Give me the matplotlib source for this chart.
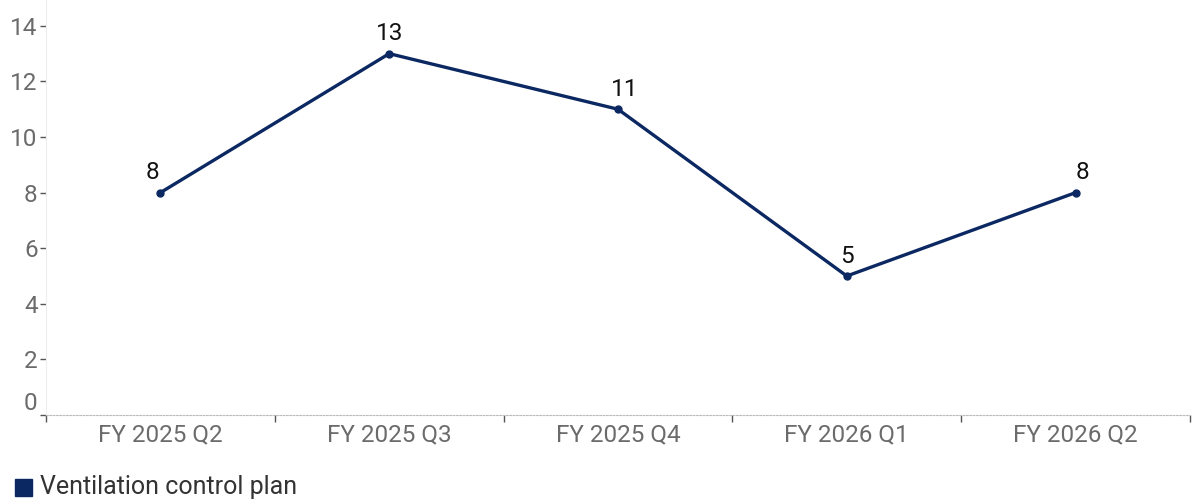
import matplotlib.pyplot as plt
from matplotlib.patches import Rectangle

quarters = ["FY 2025 Q2", "FY 2025 Q3", "FY 2025 Q4", "FY 2026 Q1", "FY 2026 Q2"]
plans = [8, 13, 11, 5, 8]
yticks = [0, 2, 4, 6, 8, 10, 12, 14]
# horizontal nudges (points) that keep labels clear of the line
label_dx = [-6, 0, 5, 0, 5]

navy = "#0b2862"
grey = "#6b6b6b"
plt.rcParams["font.family"] = ["Roboto", "DejaVu Sans"]

fig = plt.figure(figsize=(11.96, 5.0), dpi=100)
ax = fig.add_axes([46 / 1196, 1 - 415 / 500, (1190 - 46) / 1196, 415 / 500])

x = list(range(len(quarters)))
ax.plot(x, plans, color=navy, lw=2.4, marker="o", ms=5, solid_joinstyle="round")
for xi, v, dx in zip(x, plans, label_dx):
    ax.annotate(str(v), (xi, v), xytext=(dx, 6), textcoords="offset points",
                ha="center", va="bottom", fontsize=17.5, color="#111111")

ax.set_xlim(-0.5, len(quarters) - 0.5)
ax.set_ylim(0, 14.93)
ax.set_xticks(x)
ax.set_xticklabels(quarters, fontsize=17.5, color=grey)
ax.set_xticks([i - 0.5 for i in range(len(quarters) + 1)], minor=True)
ax.tick_params(axis="x", which="major", length=0, pad=6)
ax.tick_params(axis="x", which="minor", length=5, color="#555555", width=1)

ax.set_yticks(yticks)
ax.set_yticklabels([str(t) for t in yticks], fontsize=17.5, color=grey)
ax.tick_params(axis="y", length=4, color="#555555", width=1, pad=2)
ax.get_yticklabels()[0].set_verticalalignment("bottom")

for side in ("top", "right"):
    ax.spines[side].set_visible(False)
ax.spines["left"].set_color("#eeeeee")
ax.spines["bottom"].set_color("#bbbbbb")
ax.spines["bottom"].set_linestyle((0, (1.5, 1.5)))

# legend swatch and label along the bottom
fig.patches.append(Rectangle((15 / 1196, 1 - 496 / 500), 17 / 1196, 17 / 500,
                             transform=fig.transFigure, color=navy))
fig.text(40 / 1196, 1 - 494 / 500, "Ventilation control plan", fontsize=18,
         color="#333333", va="baseline")

fig.savefig("out.png", dpi=100)
